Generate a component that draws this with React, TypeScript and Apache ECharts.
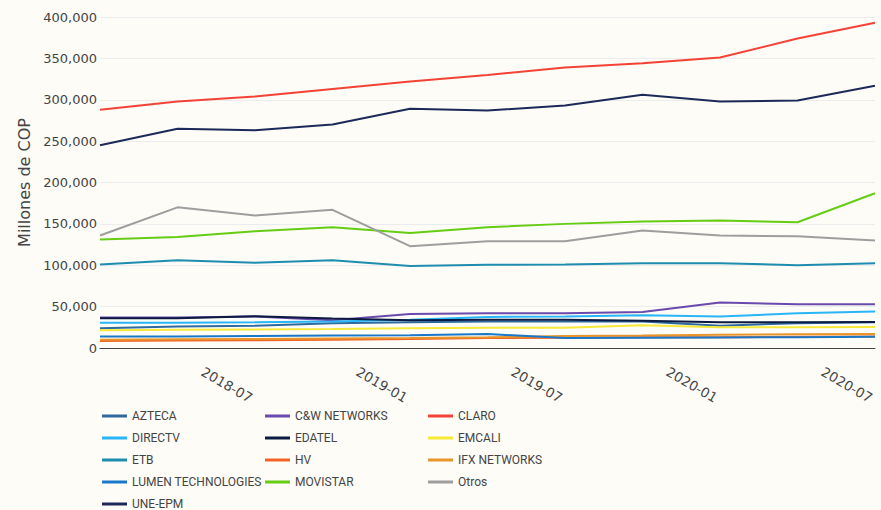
import React, { useEffect, useRef } from "react";
import * as echarts from "echarts";

const periods = ["2018-04", "2018-07", "2018-10", "2019-01", "2019-04", "2019-07", "2019-10", "2020-01", "2020-04", "2020-07", "2020-10"];

const azteca = [24000, 26000, 27000, 30000, 31000, 32000, 32000, 32000, 27000, 30000, 31000];
const cwNetworks = [37000, 37000, 38000, 33500, 41000, 42000, 42000, 43500, 55000, 53000, 53000];
const claro = [288000, 298000, 304000, 313000, 322000, 330000, 339000, 344000, 351000, 374000, 393000];
const directv = [30500, 30500, 31000, 32000, 34000, 37500, 38000, 39500, 38000, 42000, 44000];
const edatel = [36000, 36000, 38500, 35500, 33500, 34000, 34000, 33000, 31000, 31000, 31500];
const emcali = [21500, 22000, 22500, 23000, 24000, 24500, 24500, 27500, 25000, 25000, 25500];
const etb = [101000, 106000, 103000, 106000, 99000, 100500, 101000, 102500, 102500, 100000, 102500];
const hv = [8500, 9000, 9500, 10000, 11000, 12000, 12500, 13000, 13000, 13500, 14000];
const ifxNetworks = [10000, 10500, 11000, 11500, 12000, 13000, 14500, 15000, 16000, 16500, 17000];
const lumen = [14000, 14000, 14500, 15000, 15500, 17000, 12000, 12500, 12700, 13000, 13600];
const movistar = [131000, 134000, 141000, 146000, 139000, 146000, 150000, 153000, 154000, 152000, 187000];
const otros = [136000, 170000, 160000, 167000, 123000, 129000, 129000, 142000, 136000, 135000, 130000];
const uneEpm = [245000, 265000, 263000, 270000, 289000, 287000, 293000, 306000, 298000, 299000, 317000];

const yTicks = [0, 50000, 100000, 150000, 200000, 250000, 300000, 350000, 400000];

const seriesDefs = [
  { name: "AZTECA", data: azteca, color: "#2e6a9e" },
  { name: "C&W NETWORKS", data: cwNetworks, color: "#6a4aad" },
  { name: "CLARO", data: claro, color: "#f44336" },
  { name: "DIRECTV", data: directv, color: "#29b6f6" },
  { name: "EDATEL", data: edatel, color: "#0b1a40" },
  { name: "EMCALI", data: emcali, color: "#f7e93a" },
  { name: "ETB", data: etb, color: "#1e8db0" },
  { name: "HV", data: hv, color: "#f26426" },
  { name: "IFX NETWORKS", data: ifxNetworks, color: "#e8952b" },
  { name: "LUMEN TECHNOLOGIES", data: lumen, color: "#1b78c8" },
  { name: "MOVISTAR", data: movistar, color: "#66cc14" },
  { name: "Otros", data: otros, color: "#9e9e9e" },
  { name: "UNE-EPM", data: uneEpm, color: "#1b2a58" },
];

const legendCols = [
  ["AZTECA", "DIRECTV", "ETB", "LUMEN TECHNOLOGIES", "UNE-EPM"],
  ["C&W NETWORKS", "EDATEL", "HV", "MOVISTAR"],
  ["CLARO", "EMCALI", "IFX NETWORKS", "Otros"],
];
const legendLefts = [102, 265, 428];

export default function App() {
  const ref = useRef<HTMLDivElement>(null);
  useEffect(() => {
    if (!ref.current) return;
    const chart = echarts.init(ref.current, undefined, { renderer: "svg" });
    const fmt = (v: number) => v.toLocaleString("en-US");
    chart.setOption({
      animation: false,
      backgroundColor: "#fdfcf7",
      grid: { left: 100, right: 6, top: 17, bottom: 162, containLabel: false },
      legend: legendCols.map((col, i) => ({
        type: "plain",
        orient: "vertical",
        left: legendLefts[i],
        top: 409,
        height: 140,
        padding: 0,
        icon: "rect",
        itemWidth: 25,
        itemHeight: 3,
        itemGap: 8,
        data: col,
        textStyle: { fontFamily: "Roboto, sans-serif", fontSize: 12, lineHeight: 14, color: "#444" },
      })),
      xAxis: {
        type: "category",
        data: periods,
        boundaryGap: false,
        axisLine: { show: true, lineStyle: { color: "#444", width: 1 } },
        axisTick: { show: false },
        axisLabel: {
          interval: (idx: number) => idx % 2 === 1,
          rotate: -30,
          margin: 8,
          padding: [0, 0, 0, 29],
          fontFamily: "'DejaVu Sans', sans-serif",
          fontSize: 13.5,
          color: "#444",
        },
        splitLine: { show: false },
      },
      yAxis: {
        type: "value",
        min: yTicks[0],
        max: yTicks[yTicks.length - 1],
        interval: 50000,
        name: "Millones de COP",
        nameLocation: "middle",
        nameGap: 61,
        nameTextStyle: { fontFamily: "'DejaVu Sans', sans-serif", fontSize: 16, color: "#444" },
        axisLine: { show: false },
        axisTick: { show: false },
        axisLabel: {
          margin: 3,
          formatter: (v: number) => fmt(v),
          fontFamily: "'DejaVu Sans', sans-serif",
          fontSize: 13,
          color: "#444",
        },
        splitLine: { show: true, lineStyle: { color: "#ececec", width: 1 } },
      },
      series: seriesDefs.map((s) => ({
        name: s.name,
        type: "line",
        data: s.data,
        symbol: "none",
        showSymbol: false,
        color: s.color,
        lineStyle: { width: 2, color: s.color },
        itemStyle: { color: s.color },
      })),
    });
    return () => chart.dispose();
  }, []);
  return <div ref={ref} style={{ position: "absolute", left: 0, top: 0, width: 881, height: 510 }} />;
}
